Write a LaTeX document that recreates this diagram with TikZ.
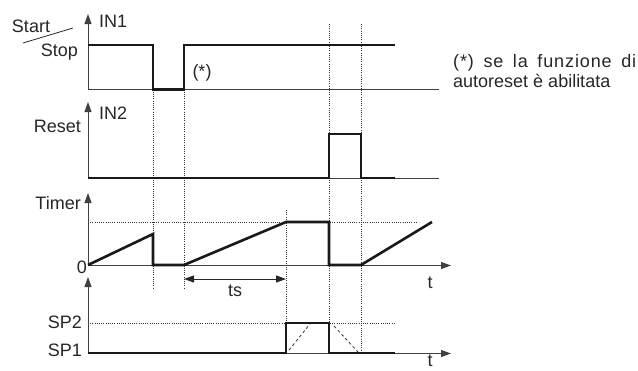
\documentclass[tikz,border=0pt]{standalone}
\usepackage{fontspec}
\setmainfont{Liberation Sans}
\usetikzlibrary{arrows.meta}
\begin{document}
\begin{tikzpicture}[x=1pt,y=-1pt,
  lbl/.style={inner sep=0pt,font=\fontsize{18}{21}\selectfont,text=black!85},
  sig/.style={line width=2.6pt,black!90,line join=miter},
  axis/.style={line width=1pt,black!75},
  axarr/.style={axis,-{Triangle[length=10pt,width=7pt]}},
  grid/.style={line width=0.8pt,black!80,dash pattern=on 1pt off 1.2pt},
  ramp/.style={line width=0.8pt,black!80,dash pattern=on 3pt off 2.5pt},
  dim/.style={line width=1pt,black!85,{Triangle[length=10pt,width=7pt]}-{Triangle[length=10pt,width=7pt]}}]
\useasboundingbox (0,0) rectangle (638,370);
% guide lines (dotted)
\draw[grid] (153,89.5) -- (153,288);
\draw[grid] (184,89.5) -- (184,288);
\draw[grid] (286,210) -- (286,353);
\draw[grid] (329,24) -- (329,353);
\draw[grid] (361,24) -- (361,353);
\draw[grid] (88,222) -- (418,222);
\draw[grid] (88,323) -- (395,323);
% IN1 panel
\draw[axarr] (88,89.5) -- (88,14);
\draw[axis] (88,89.5) -- (439,89.5);
\draw[sig] (88,45) -- (153,45) -- (153,89.5) -- (184,89.5) -- (184,45) -- (395,45);
% IN2 panel
\draw[axarr] (88,178) -- (88,102);
\draw[axis] (88,178) -- (439,178);
\draw[sig] (88,178) -- (329,178) -- (329,134) -- (361,134) -- (361,178) -- (395,178);
% Timer panel
\draw[axarr] (88,265.5) -- (88,193);
\draw[axarr] (88,265.5) -- (451,265.5);
\draw[sig] (88,265) -- (153,234) -- (153,265) -- (184,265) -- (286,222) -- (329,222) -- (329,265) -- (361,265) -- (432,222);
\draw[dim] (184,279) -- (286,279);
% SP panel
\draw[axarr] (88,353.5) -- (88,277);
\draw[axarr] (88,353.5) -- (451,353.5);
\draw[sig] (88,353) -- (286,353) -- (286,323) -- (329,323) -- (329,353) -- (395,353);
\draw[ramp] (289,350) -- (310,324);
\draw[ramp] (334,326) -- (358,352);
% labels
\draw[line width=0.8pt,black!85] (23,43) -- (73,28);
\node[lbl,anchor=base] (start) at (31,32) {Start};
\node[lbl,anchor=base east] (stop) at (78,56) {Stop};
\node[lbl,anchor=base west] (in1) at (99,27) {IN1};
\node[lbl] (ast) at (202,73) {(*)};
\node[lbl,anchor=base west] (in2) at (99,119) {IN2};
\node[lbl,anchor=base east] (reset) at (81,132) {Reset};
\node[lbl,anchor=base east] (timer) at (81,209) {Timer};
\node[lbl,anchor=base east] (zero) at (87,273) {0};
\node[lbl,anchor=base] (ts) at (235,296) {ts};
\node[lbl,anchor=base] (t1) at (430,288) {t};
\node[lbl,anchor=base] (t2) at (430,366) {t};
\node[lbl,anchor=base east] (sp2) at (82,328) {SP2};
\node[lbl,anchor=base east] (sp1) at (82,356) {SP1};
\node[lbl,anchor=base west] (note1) at (453,67) {\addfontfeature{LetterSpace=5}\makebox[183pt][s]{(*) se la funzione di}};
\node[lbl,anchor=base west] (note2) at (453,87) {autoreset è abilitata};
\end{tikzpicture}
\end{document}
